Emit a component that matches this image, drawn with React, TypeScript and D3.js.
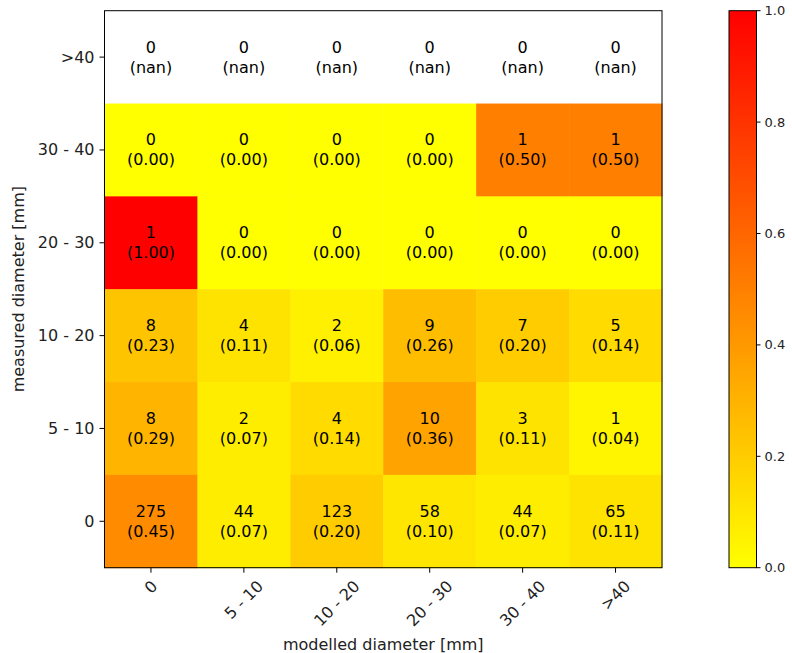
import React from "react";
import * as d3 from "d3";

const xCategories = ["0", "5 - 10", "10 - 20", "20 - 30", "30 - 40", ">40"];
const yCategories = [">40", "30 - 40", "20 - 30", "10 - 20", "5 - 10", "0"]; // top to bottom

// counts by row (top to bottom), columns left to right
const counts: number[][] = [
  [0, 0, 0, 0, 0, 0],
  [0, 0, 0, 0, 1, 1],
  [1, 0, 0, 0, 0, 0],
  [8, 4, 2, 9, 7, 5],
  [8, 2, 4, 10, 3, 1],
  [275, 44, 123, 58, 44, 65],
];
// fractions (null = nan)
const fractions: (number | null)[][] = [
  [null, null, null, null, null, null],
  [0.0, 0.0, 0.0, 0.0, 0.5, 0.5],
  [1.0, 0.0, 0.0, 0.0, 0.0, 0.0],
  [0.23, 0.11, 0.06, 0.26, 0.2, 0.14],
  [0.29, 0.07, 0.14, 0.36, 0.11, 0.04],
  [0.45, 0.07, 0.2, 0.1, 0.07, 0.11],
];
const colorbarTicks = [0, 0.2, 0.4, 0.6, 0.8, 1.0];

const FONT = "DejaVu Sans, sans-serif";

function measure(text: string, size: number): number {
  const c = document.createElement("canvas").getContext("2d");
  if (!c) return text.length * size * 0.6;
  c.font = `${size}px "DejaVu Sans"`;
  return c.measureText(text).width;
}

export default function App() {
  const W = 792, H = 653;
  const left = 104.5, right = 662, top = 10.7, bottom = 567.7;
  const x = d3.scaleBand<string>().domain(xCategories).range([left, right]);
  const y = d3.scaleBand<string>().domain(yCategories).range([top, bottom]);
  const color = (v: number) => d3.rgb(255, Math.round(255 * (1 - v)), 0).toString();

  const cbX0 = 729, cbX1 = 756.5;
  const cbY = d3.scaleLinear().domain([0, 1]).range([bottom, top]);
  const gradStops = d3.range(0, 1.0001, 0.1);

  const tickFs = 16;
  const cellFs = 16;

  return (
    <svg width={W} height={H} style={{ position: "absolute", left: 0, top: 0 }} fontFamily={FONT}>
      <defs>
        <linearGradient id="cbgrad" x1="0" y1="1" x2="0" y2="0">
          {gradStops.map((s) => (
            <stop key={s} offset={s} stopColor={color(s)} />
          ))}
        </linearGradient>
      </defs>
      <rect x={0} y={0} width={W} height={H} fill="white" />
      {/* cells */}
      {yCategories.map((ry, i) =>
        xCategories.map((cx, j) => {
          const f = fractions[i][j];
          const x0 = x(cx)!, y0 = y(ry)!;
          const bw = x.bandwidth(), bh = y.bandwidth();
          return (
            <g key={`${i}-${j}`}>
              <rect
                x={x0}
                y={y0}
                width={bw + 0.5}
                height={bh + 0.5}
                fill={f === null ? "white" : color(f)}
              />
              <text
                x={x0 + bw / 2}
                y={y0 + bh / 2 - 10}
                textAnchor="middle"
                dominantBaseline="central"
                fontSize={cellFs}
                fill="black"
              >
                {counts[i][j]}
              </text>
              <text
                x={x0 + bw / 2}
                y={y0 + bh / 2 + 10}
                textAnchor="middle"
                dominantBaseline="central"
                fontSize={cellFs}
                fill="black"
              >
                {f === null ? "(nan)" : `(${f.toFixed(2)})`}
              </text>
            </g>
          );
        })
      )}
      <rect x={left} y={top} width={right - left} height={bottom - top} fill="none" stroke="black" strokeWidth={1} />
      {/* y ticks */}
      {yCategories.map((c) => {
        const yy = y(c)! + y.bandwidth() / 2;
        return (
          <g key={c}>
            <line x1={left - 5} x2={left} y1={yy} y2={yy} stroke="black" strokeWidth={1} />
            <text x={left - 10} y={yy} textAnchor="end" dominantBaseline="central" fontSize={tickFs} fill="#222">
              {c}
            </text>
          </g>
        );
      })}
      {/* x ticks */}
      {xCategories.map((c) => {
        const xx = x(c)! + x.bandwidth() / 2;
        const w = measure(c, tickFs);
        const h = tickFs * 1.0;
        const cy = bottom + 10 + (w + h) / (2 * Math.SQRT2);
        return (
          <g key={c}>
            <line x1={xx} x2={xx} y1={bottom} y2={bottom + 5} stroke="black" strokeWidth={1} />
            <text
              transform={`translate(${xx},${cy}) rotate(-45)`}
              textAnchor="middle"
              dominantBaseline="central"
              fontSize={tickFs}
              fill="#222"
            >
              {c}
            </text>
          </g>
        );
      })}
      <text x={(left + right) / 2 + 0} y={650} textAnchor="middle" fontSize={tickFs} fill="#222">
        modelled diameter [mm]
      </text>
      <text
        transform={`translate(18,${(top + bottom) / 2}) rotate(-90)`}
        textAnchor="middle"
        dominantBaseline="central"
        fontSize={tickFs}
        fill="#222"
      >
        measured diameter [mm]
      </text>
      {/* colorbar */}
      <rect x={cbX0} y={top} width={cbX1 - cbX0} height={bottom - top} fill="url(#cbgrad)" stroke="black" strokeWidth={1} />
      {colorbarTicks.map((t) => {
        const yy = cbY(t);
        return (
          <g key={t}>
            <line x1={cbX1} x2={cbX1 + 4} y1={yy} y2={yy} stroke="black" strokeWidth={1} />
            <text x={cbX1 + 8} y={yy} dominantBaseline="central" fontSize={13} fill="#222">
              {t.toFixed(1)}
            </text>
          </g>
        );
      })}
    </svg>
  );
}
